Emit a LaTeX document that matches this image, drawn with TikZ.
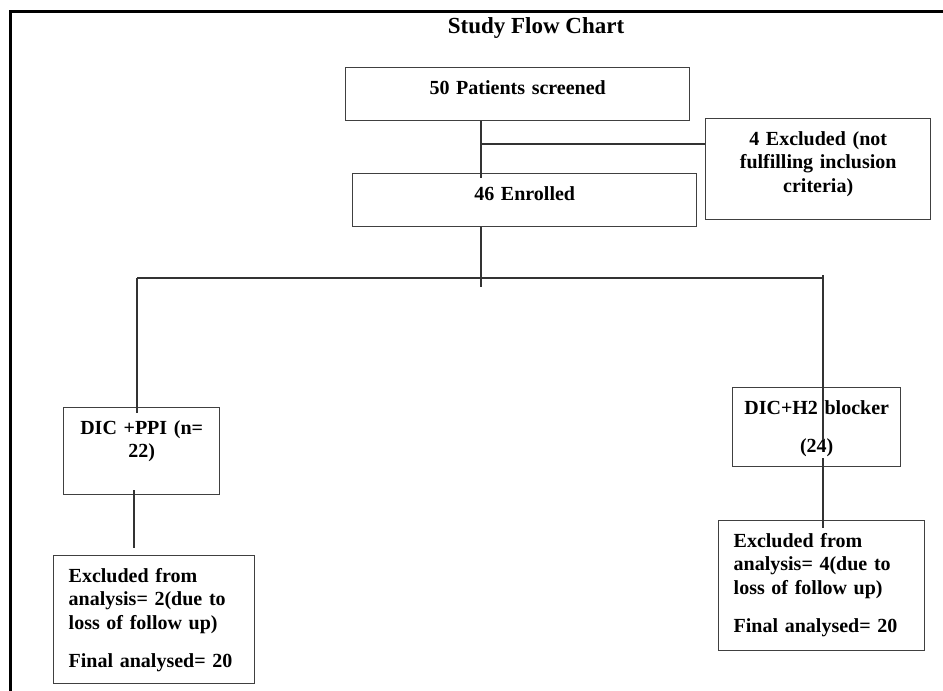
\documentclass[tikz,border=0pt]{standalone}
\usepackage{fontspec}
\setmainfont{Liberation Serif}
\usepackage{tikz}
\usetikzlibrary{positioning}

\begin{document}
\begin{tikzpicture}[x=1pt, y=-1pt,
    flowbox/.style={rectangle, draw=black!75, line width=1.4pt, anchor=north west,
        inner xsep=0pt, inner ysep=0pt, align=center, text height=26.5pt,
        font=\fontsize{20}{23.5}\selectfont\bfseries},
    sidebox/.style={flowbox, align=left, inner xsep=15pt},
    link/.style={draw=black!80, line width=1.4pt}]
    \useasboundingbox (0,0) rectangle (943,691);
    % page frame (top and left only)
    \draw[line width=3pt] (943,11) -- (10,11) -- (10,691);
    % Title
    \node[font=\fontsize{23}{26}\selectfont\bfseries] (title) at (536,28) {Study Flow Chart};
    % Screening and enrolment
    \node[flowbox, text width=344pt, text depth=26.5pt] (scr) at (345,67) {50 Patients screened};
    \node[flowbox, text width=225pt, text depth=74.5pt] (exc) at (705,118) {4 Excluded (not\\fulfilling inclusion\\criteria)};
    \node[flowbox, text width=344pt, text depth=26.5pt] (enr) at (352,173) {46 Enrolled};
    % Treatment arms
    \node[flowbox, text width=156pt, text depth=60.5pt] (ppi) at (63,407) {DIC +PPI (n=\\22)};
    \node[flowbox, text width=168pt, text depth=52.5pt] (h2) at (732,387) {DIC+H2 blocker\\[14.5pt](24)};
    % Analysis boxes
    \node[sidebox, text width=171pt, text depth=101.5pt] (anppi) at (53,555) {Excluded from\\analysis= 2(due to\\loss of follow up)\\[14.5pt]Final analysed= 20};
    \node[sidebox, text width=176pt, text depth=103.5pt] (anh2) at (718,520) {Excluded from\\analysis= 4(due to\\loss of follow up)\\[14.5pt]Final analysed= 20};

    % connectors
    \coordinate (trunk) at (481,144);
    \coordinate (split) at (481,278);
    \coordinate (lft) at (137,278);
    \coordinate (rgt) at (823,278);
    \coordinate (drop) at (134,490);
    \draw[link] (scr.south -| trunk) -- ([yshift=-5pt]trunk |- enr.north);
    \draw[link] (trunk) -- (trunk -| exc.west);
    \draw[link] (enr.south -| split) -- ([yshift=-9pt]split);
    \draw[link] (lft) -- (rgt);
    \draw[link] (lft) -- ([yshift=-6pt]lft |- ppi.north);
    \draw[link] ([yshift=3pt]rgt) -- ([yshift=-53pt]rgt |- h2.north);
    \draw[link] (drop) -- ([yshift=7pt]drop |- anppi.north);
    \draw[link] ([yshift=9pt]rgt |- h2.south) -- ([yshift=-8pt]rgt |- anh2.north);
\end{tikzpicture}
\end{document}
